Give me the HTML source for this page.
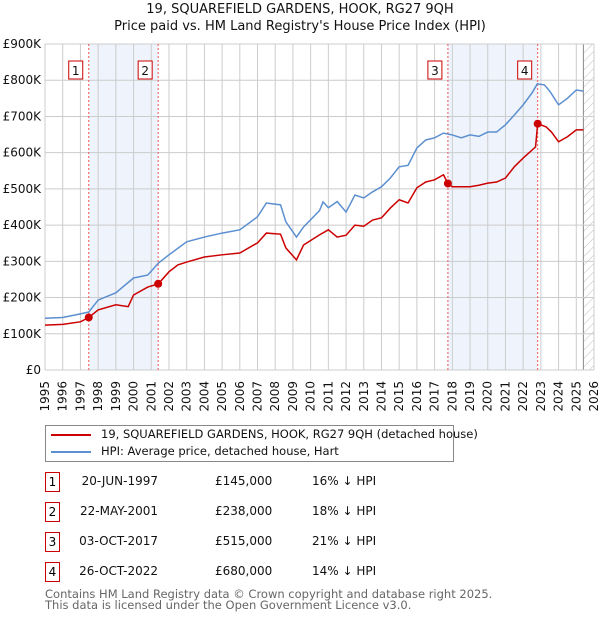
<!DOCTYPE html>
<html><head><meta charset="utf-8"><style>
body{margin:0;background:#fff;font-family:"DejaVu Sans","Liberation Sans",sans-serif;}
#wrap{position:relative;width:600px;height:620px;overflow:hidden}
.t{position:absolute;font-size:12px;color:#111;white-space:nowrap}
.box{position:absolute;width:13px;height:18px;border:1px solid #c00;font-size:12px;text-align:center;line-height:18px}
</style></head><body><div id="wrap">
<div class="t" style="left:0;width:600px;text-align:center;top:2px;font-size:13px">19, SQUAREFIELD GARDENS, HOOK, RG27 9QH</div>
<div class="t" style="left:0;width:600px;text-align:center;top:19px;font-size:13px">Price paid vs. HM Land Registry's House Price Index (HPI)</div>
<svg id="chart" width="600" height="420" style="position:absolute;left:0;top:0"></svg>
<div style="position:absolute;left:45px;top:425px;width:407px;height:35px;border:1px solid #888">
<div><div style="position:absolute;left:5px;top:8px;width:40px;height:2px;background:#c00"></div><div class="t" style="left:55px;top:1px;font-size:11.5px">19, SQUAREFIELD GARDENS, HOOK, RG27 9QH (detached house)</div></div>
<div><div style="position:absolute;left:5px;top:25px;width:40px;height:2px;background:#5b8fd0"></div><div class="t" style="left:55px;top:18px;font-size:11.5px">HPI: Average price, detached house, Hart</div></div>
</div>
<div id="tbl"></div>
<div class="t" style="left:45px;top:589px;color:#666;font-size:11.5px;line-height:11px">Contains HM Land Registry data © Crown copyright and database right 2025.<br>This data is licensed under the Open Government Licence v3.0.</div>
</div>
<script>
const hpiYears=[1995,1996,1997,1997.47,1998,1999,2000,2000.8,2001.4,2002,2003,2004,2005,2006,2007,2007.5,2008.3,2008.6,2009.2,2009.6,2010.5,2010.7,2011,2011.5,2012,2012.5,2013,2013.5,2014,2014.5,2015,2015.5,2016,2016.5,2017,2017.5,2018,2018.5,2019,2019.5,2020,2020.5,2021,2021.5,2022,2022.5,2022.8,2023.2,2023.5,2024,2024.5,2025,2025.4];
const hpiValues=[143,145,155,160,193,213,254,262,295,318,354,367,378,387,423,461,456,409,367,395,440,464,448,465,436,483,475,492,506,530,561,565,613,635,641,654,649,641,649,645,657,657,677,704,732,765,790,787,770,732,750,773,770];
const redYears=[1995,1996,1997,1997.47,1998,1999,1999.7,2000,2000.8,2001.4,2002,2002.5,2003,2004,2005,2006,2007,2007.5,2008.3,2008.6,2009.2,2009.6,2010.5,2011,2011.5,2012,2012.5,2013,2013.5,2014,2014.5,2015,2015.5,2016,2016.5,2017,2017.5,2017.75,2018,2019,2019.5,2020,2020.5,2021,2021.5,2022,2022.7,2022.82,2023.3,2023.6,2024,2024.5,2025,2025.4];
const redValues=[124,126,133,145,166,180,175,207,229,238,271,290,298,312,318,323,351,378,375,337,304,345,373,387,367,372,400,397,414,420,447,470,461,503,519,525,539,515,506,506,510,516,519,530,561,585,616,680,671,657,630,644,663,663];
const saleYears=[1997.47,2001.39,2017.75,2022.82];
const saleValues=[145,238,515,680];
const saleLabels=["1","2","3","4"];
const saleDates=["20-JUN-1997","22-MAY-2001","03-OCT-2017","26-OCT-2022"];
const salePrices=["£145,000","£238,000","£515,000","£680,000"];
const saleDiffs=["16% ↓ HPI","18% ↓ HPI","21% ↓ HPI","14% ↓ HPI"];
const yTicks=[0,100,200,300,400,500,600,700,800,900];
const yTickLabels=["£0","£100K","£200K","£300K","£400K","£500K","£600K","£700K","£800K","£900K"];
const xTicks=[1995,1996,1997,1998,1999,2000,2001,2002,2003,2004,2005,2006,2007,2008,2009,2010,2011,2012,2013,2014,2015,2016,2017,2018,2019,2020,2021,2022,2023,2024,2025,2026];
const L=45,R=594,T=44,B=370;
const x=v=>L+(v-1995)/31*(R-L);
const y=v=>B-v/900*(B-T);
const NS="http://www.w3.org/2000/svg",svg=document.getElementById('chart');
function mk(t,a,p){const e=document.createElementNS(NS,t);for(const k in a)e.setAttribute(k,a[k]);(p||svg).appendChild(e);return e;}
const defs=mk('defs',{});
const pat=mk('pattern',{id:'hatch',width:6,height:6,patternUnits:'userSpaceOnUse',patternTransform:'rotate(45)'},defs);
mk('line',{x1:0,y1:0,x2:0,y2:6,stroke:'#bbb','stroke-width':1},pat);
for(let i=0;i<4;i+=2){const r=mk('rect',{x:x(saleYears[i]),y:T,width:x(saleYears[i+1])-x(saleYears[i]),height:B-T,fill:'#eef3fc'});
}
const hr=mk('rect',{x:x(2025.4),y:T,width:R-x(2025.4),height:B-T,fill:'url(#hatch)'});

mk('line',{x1:x(2025.4),y1:T,x2:x(2025.4),y2:B,stroke:'#888'});
xTicks.forEach(v=>{const l=mk('line',{x1:x(v),y1:T,x2:x(v),y2:B,stroke:'#ccc'});
const t=mk('text',{x:0,y:0,'text-anchor':'end','font-size':12,fill:'#111',transform:'translate('+(x(v)+4)+',381) rotate(-90)'});t.textContent=v;});
yTicks.forEach((v,i)=>{const l=mk('line',{x1:L,y1:y(v),x2:R,y2:y(v),stroke:'#ccc'});
const t=mk('text',{x:41,y:y(v)+4,'text-anchor':'end','font-size':12,fill:'#111'});t.textContent=yTickLabels[i];});
saleYears.forEach((v,i)=>{const l=mk('line',{x1:x(v),y1:T,x2:x(v),y2:B,stroke:'#e55','stroke-dasharray':'2,2'});
const g=mk('g',{});
mk('rect',{x:x(v)-20,y:61,width:14,height:18,fill:'#fff',stroke:'#c00'},g);
const t=mk('text',{x:x(v)-13,y:75,'text-anchor':'middle','font-size':12,fill:'#111'},g);t.textContent=saleLabels[i];});
const hp=mk('polyline',{points:hpiYears.map((v,i)=>x(v)+','+y(hpiValues[i])).join(' '),fill:'none',stroke:'#5b8fd0','stroke-width':1.5});

const rp=mk('polyline',{points:redYears.map((v,i)=>x(v)+','+y(redValues[i])).join(' '),fill:'none',stroke:'#c00','stroke-width':1.5});

saleYears.forEach((v,i)=>{const c=mk('circle',{cx:x(v),cy:y(saleValues[i]),r:4,fill:'#c00'});});
const tbl=document.getElementById('tbl');
saleYears.forEach((v,i)=>{const top=472+i*30;const row=document.createElement('div');

row.innerHTML='<div class="box" style="left:45px;top:'+top+'px">'+saleLabels[i]+'</div><div class="t" style="left:60px;width:98px;text-align:right;top:'+(top+2)+'px">'+saleDates[i]+'</div><div class="t" style="left:215px;top:'+(top+2)+'px">'+salePrices[i]+'</div><div class="t" style="left:312px;top:'+(top+2)+'px">'+saleDiffs[i]+'</div>';
tbl.appendChild(row);});
</script></body></html>
